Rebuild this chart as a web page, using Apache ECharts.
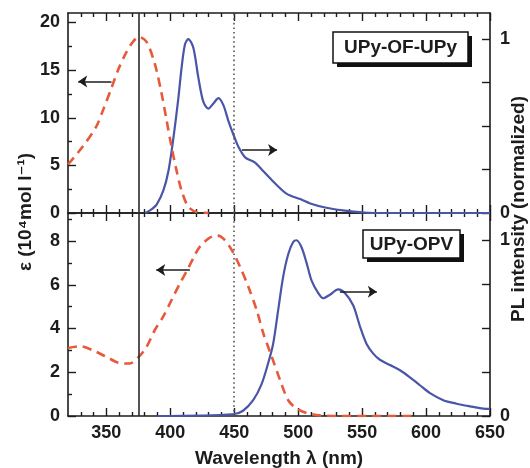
<!DOCTYPE html>
<html>
<head>
<meta charset="utf-8">
<script src="https://cdn.jsdelivr.net/npm/echarts@6/dist/echarts.min.js"></script>
<style>
html, body { margin: 0; background: #fff; }
#chart { width: 530px; height: 468px; }
</style>
</head>
<body>
<div id="chart"></div>
<script>
// UPy-OF-UPy: absorption (left axis) and PL (right axis)
const ofAbsWl = [320, 331.7, 342.2, 347.4, 353.9, 359.1, 365.7, 370.9, 375.3, 381.3, 387.8, 393.1, 397, 400.9, 404.8, 408.7, 413.9, 420.5, 430];
const ofAbsEps = [5.1, 7.0, 9.1, 10.8, 13.1, 15.0, 16.9, 18.0, 18.5, 18.0, 15.7, 12.6, 9.8, 7.0, 4.5, 2.4, 0.7, 0.1, 0];
const ofPlWl = [380.3, 385, 389.4, 394.6, 398.5, 402.4, 406.3, 408.9, 411.5, 414.1, 418, 421.9, 425.8, 429.8, 433.7, 437.6, 441.5, 445.4, 449.4, 453.3, 458.5, 466.3, 472.8, 480.6, 491.1, 501.6, 509.4, 522, 535, 548, 560, 650];
const ofPlInt = [0, 0.02, 0.05, 0.13, 0.24, 0.43, 0.66, 0.84, 0.97, 1.0, 0.95, 0.78, 0.64, 0.60, 0.63, 0.66, 0.62, 0.53, 0.45, 0.38, 0.32, 0.29, 0.24, 0.18, 0.11, 0.08, 0.055, 0.03, 0.015, 0.005, 0, 0];

// UPy-OPV
const opvAbsWl = [320, 329.2, 339.6, 350.1, 360.5, 368.3, 375.3, 381.3, 387.8, 394.3, 400.9, 407.4, 413.9, 419.1, 423, 429.8, 436.4, 441.5, 448.1, 454.6, 461.1, 467.6, 472.8, 479.4, 485.9, 492.2, 498.7, 506.6, 517, 530, 592];
const opvAbsEps = [3.11, 3.19, 3.0, 2.70, 2.42, 2.40, 2.70, 3.15, 3.92, 4.53, 5.29, 6.05, 6.74, 7.35, 7.73, 8.11, 8.26, 8.11, 7.58, 6.81, 5.90, 4.83, 3.77, 2.70, 1.63, 0.72, 0.34, 0.14, 0.03, 0, 0];
const opvPlWl = [390, 449.1, 456.9, 464.8, 471.3, 476.5, 480.4, 484.3, 488.2, 492.2, 496.1, 498.7, 502.6, 506.6, 510.5, 515.6, 519.5, 524.8, 531.3, 536.5, 543, 548.3, 553.5, 558.7, 563.9, 571.8, 579.6, 587.4, 595.2, 603.1, 613.5, 623.9, 634.4, 644.8, 650];
const opvPlInt = [0, 0.01, 0.03, 0.09, 0.18, 0.30, 0.41, 0.60, 0.79, 0.92, 0.99, 1.0, 0.96, 0.87, 0.77, 0.70, 0.67, 0.69, 0.72, 0.70, 0.63, 0.51, 0.41, 0.355, 0.32, 0.29, 0.26, 0.22, 0.175, 0.13, 0.09, 0.07, 0.055, 0.042, 0.04];

// ticks
const xMajor = [350, 400, 450, 500, 550, 600, 650];
const xMinor = [330, 340, 360, 370, 380, 390, 410, 420, 430, 440, 460, 470, 480, 490, 510, 520, 530, 540, 560, 570, 580, 590, 610, 620, 630, 640];
const epsTopMajor = [0, 5, 10, 15, 20];
const epsTopMinor = [2.5, 7.5, 12.5, 17.5];
const epsBotMajor = [0, 2, 4, 6, 8];
const epsBotMinor = [1, 3, 5, 7, 9];
const plTicks = [0, 0.25, 0.5, 0.75, 1];
const plLabels = [0, 1];

const INK = '#1c1c1c';
const RED = '#e65a3b';
const BLUE = '#4a55a8';
const FONT = '"Liberation Sans", Arial, "DejaVu Sans", sans-serif';

const zip = (a, b) => a.map((v, i) => [v, b[i]]);

const labelStyle = { color: INK, fontSize: 18, fontWeight: 'bold', fontFamily: FONT };

function axis(type, grid, position, min, max, ticks, tickLen, labels, opts) {
    const ax = {
        type: 'value', gridIndex: grid, position: position, min: min, max: max,
        axisLine: { show: !!(opts && opts.line), onZero: false, lineStyle: { color: INK, width: 1.6 } },
        axisTick: { show: true, inside: true, length: tickLen, customValues: ticks, lineStyle: { color: INK, width: 1.4 } },
        axisLabel: labels ? Object.assign({ show: true, customValues: labels, margin: (opts && opts.margin) || 8 }, labelStyle) : { show: false },
        splitLine: { show: false }
    };
    return ax;
}

const xAxes = [
    axis('x', 0, 'bottom', 320, 650, xMajor, 8, null, { line: true }),
    axis('x', 0, 'top', 320, 650, xMajor, 8, null, { line: true }),
    axis('x', 1, 'bottom', 320, 650, xMajor, 8, xMajor, { line: true, margin: 8 }),
    axis('x', 1, 'top', 320, 650, xMajor, 8, null, { line: true }),
    axis('x', 2, 'bottom', 320, 650, xMinor, 4, null),
    axis('x', 2, 'top', 320, 650, xMinor, 4, null),
    axis('x', 3, 'bottom', 320, 650, xMinor, 4, null),
    axis('x', 3, 'top', 320, 650, xMinor, 4, null)
];
const yAxes = [
    axis('y', 0, 'left', 0, 21, epsTopMajor, 8, epsTopMajor, { line: true, margin: 8 }),
    axis('y', 0, 'right', 0, 1.15, plTicks, 8, plLabels, { line: true, margin: 10 }),
    axis('y', 1, 'left', 0, 9.28, epsBotMajor, 8, epsBotMajor, { line: true, margin: 8 }),
    axis('y', 1, 'right', 0, 1.155, plTicks, 8, plLabels, { line: true, margin: 10 }),
    axis('y', 2, 'left', 0, 21, epsTopMinor, 4, null),
    axis('y', 3, 'left', 0, 9.28, epsBotMinor, 4, null)
];

const arrowStyle = { color: INK, width: 1.5, type: 'solid' };
function arrow(x0, x1, y) {
    return [
        { coord: [x0, y], symbol: 'none', lineStyle: arrowStyle },
        { coord: [x1, y], symbol: 'arrow', symbolSize: 9, lineStyle: arrowStyle }
    ];
}
const guideLines = [
    { xAxis: 375, lineStyle: { color: '#2a2a2a', width: 1.6, type: 'solid' } },
    { xAxis: 450, lineStyle: { color: '#555', width: 1.6, type: [1.6, 3] } }
];
function marks(list) {
    return { silent: true, animation: false, symbol: 'none', label: { show: false }, data: list };
}

const absStyle = { color: RED, width: 2.6, type: [9, 6] };
const plStyle = { color: BLUE, width: 2.2 };

const option = {
    animation: false,
    backgroundColor: '#fff',
    grid: [
        { left: 68, right: 40, top: 13, height: 200, containLabel: false, outerBoundsMode: 'none' },
        { left: 68, right: 40, top: 213, height: 203, containLabel: false, outerBoundsMode: 'none' },
        { left: 68, right: 40, top: 13, height: 200, containLabel: false, outerBoundsMode: 'none' },
        { left: 68, right: 40, top: 213, height: 203, containLabel: false, outerBoundsMode: 'none' }
    ],
    xAxis: xAxes,
    yAxis: yAxes,
    series: [
        {
            type: 'line', xAxisIndex: 0, yAxisIndex: 0, data: zip(ofAbsWl, ofAbsEps),
            smooth: 0.3, showSymbol: false, symbol: 'none', lineStyle: absStyle, z: 3,
            markLine: marks(guideLines.concat([arrow(354, 328, 13.8)]))
        },
        {
            type: 'line', xAxisIndex: 0, yAxisIndex: 1, data: zip(ofPlWl, ofPlInt),
            smooth: 0.3, showSymbol: false, symbol: 'none', lineStyle: plStyle, z: 2,
            markLine: marks([arrow(456, 483.5, 0.362)])
        },
        {
            type: 'line', xAxisIndex: 2, yAxisIndex: 2, data: zip(opvAbsWl, opvAbsEps),
            smooth: 0.3, showSymbol: false, symbol: 'none', lineStyle: absStyle, z: 3,
            markLine: marks(guideLines.concat([arrow(415.3, 389, 6.67)]))
        },
        {
            type: 'line', xAxisIndex: 2, yAxisIndex: 3, data: zip(opvPlWl, opvPlInt),
            smooth: 0.3, showSymbol: false, symbol: 'none', lineStyle: plStyle, z: 2,
            markLine: marks([arrow(532.6, 561.5, 0.707)])
        }
    ],
    graphic: [
        // sample boxes with drop shadow
        { type: 'rect', shape: { x: 337, y: 36, width: 135, height: 31 }, style: { fill: '#111' }, z: 10 },
        { type: 'rect', shape: { x: 333, y: 32, width: 135, height: 31 }, style: { fill: '#fff', stroke: '#111', lineWidth: 1.5 }, z: 11 },
        { type: 'text', x: 400.5, y: 48, z: 12, style: { text: 'UPy-OF-UPy', fill: INK, font: 'bold 19px ' + FONT, align: 'center', verticalAlign: 'middle', textAlign: 'center', textVerticalAlign: 'middle' } },
        { type: 'rect', shape: { x: 367, y: 234, width: 97, height: 28 }, style: { fill: '#111' }, z: 10 },
        { type: 'rect', shape: { x: 363, y: 230, width: 97, height: 28 }, style: { fill: '#fff', stroke: '#111', lineWidth: 1.5 }, z: 11 },
        { type: 'text', x: 411.5, y: 244.5, z: 12, style: { text: 'UPy-OPV', fill: INK, font: 'bold 19px ' + FONT, align: 'center', verticalAlign: 'middle', textAlign: 'center', textVerticalAlign: 'middle' } },
        // axis titles
        { type: 'text', x: 26, y: 212, rotation: Math.PI / 2, style: { text: 'ε (10⁴mol l⁻¹)', fill: INK, font: 'bold 19px ' + FONT, align: 'center', verticalAlign: 'middle', textAlign: 'center', textVerticalAlign: 'middle' } },
        { type: 'text', x: 519, y: 209, rotation: Math.PI / 2, style: { text: 'PL intensity (normalized)', fill: INK, font: 'bold 19px ' + FONT, align: 'center', verticalAlign: 'middle', textAlign: 'center', textVerticalAlign: 'middle' } },
        { type: 'text', x: 279, y: 459, style: { text: 'Wavelength λ (nm)', fill: INK, font: 'bold 19px ' + FONT, align: 'center', verticalAlign: 'middle', textAlign: 'center', textVerticalAlign: 'middle' } }
    ]
};

const chart = echarts.init(document.getElementById('chart'));
chart.setOption(option);
</script>
</body>
</html>
